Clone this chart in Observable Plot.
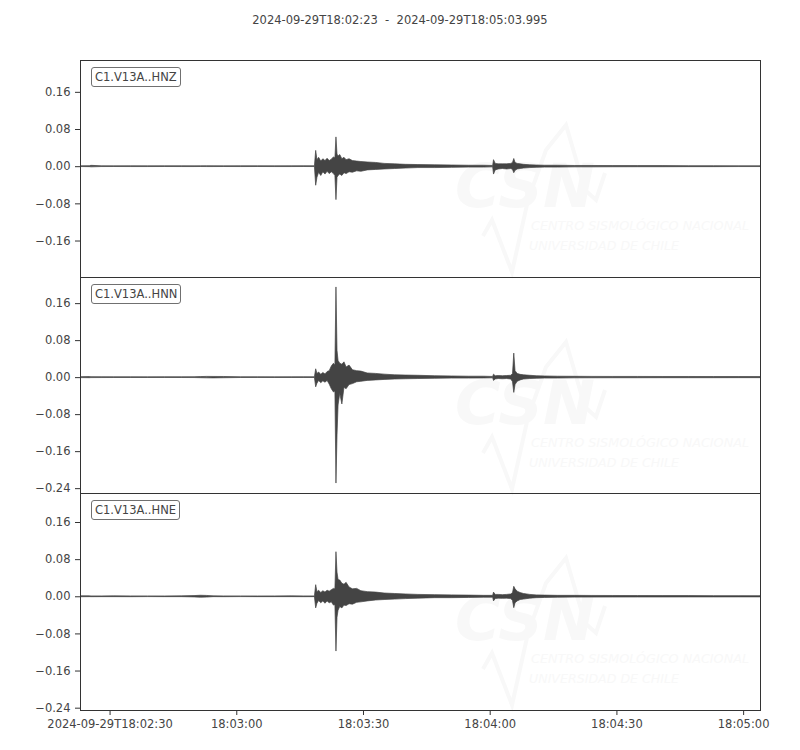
<!DOCTYPE html>
<html><head><meta charset="utf-8">
<script src="https://cdn.jsdelivr.net/npm/d3@7"></script>
<script src="https://cdn.jsdelivr.net/npm/@observablehq/plot@0.6"></script>
<style>
body{margin:0;background:#fff;}
#wrap{position:relative;width:800px;height:750px;font-family:"DejaVu Sans",sans-serif;color:#444;overflow:hidden;}
.title{position:absolute;top:13px;left:0;width:800px;text-align:center;font-size:11.5px;line-height:14px;white-space:pre;}
.panel{position:absolute;left:0;}
.tag{position:absolute;left:91px;font-size:11.5px;border:1px solid #707070;border-radius:3px;padding:2px 3px;background:#fff;line-height:14px;color:#444;}
#wm{position:absolute;left:0;top:0;}
</style></head>
<body><div id="wrap"></div>
<script>
// ---- data (seconds after 2024-09-29T18:02:23, envelope of each trace) ----
const startISO = "2024-09-29T18:02:23Z";
const duration = 160.995;
const title = "2024-09-29T18:02:23  -  2024-09-29T18:05:03.995";
const channels = ["C1.V13A..HNZ", "C1.V13A..HNN", "C1.V13A..HNE"];
const T = [
  0, 2.2, 2.6, 5, 8, 12, 16, 20, 24, 27, 28.5, 30, 31.5, 34, 38, 42, 46, 50, 53, 55.5,
  55.8, 56.1, 56.5, 57, 57.5, 58, 58.5, 59, 59.5, 60, 60.35,
  60.6, 60.85, 61.1, 61.5, 62, 62.5, 63, 63.7, 64.5, 65.5, 66.5, 68, 70, 72, 74.5, 77, 80, 84, 88, 92, 95.5, 97.7,
  97.9, 98.3, 99, 100, 101, 102, 102.4, 102.7, 103, 103.5, 104.2, 105, 106.5, 108, 110, 113, 117, 121, 126, 132, 138, 144, 150, 156, 160.99
];
const HNZ_hi = [
  0.0008, 0.001, 0.0018, 0.0008, 0.0007, 0.0008, 0.0007, 0.0008, 0.0008, 0.0007, 0.0008, 0.0009, 0.0008, 0.0007, 0.0008, 0.0008, 0.0007, 0.0008, 0.0009, 0.0008,
  0.034, 0.014, 0.019, 0.011, 0.016, 0.012, 0.017, 0.012, 0.015, 0.020, 0.018,
  0.063, 0.026, 0.022, 0.025, 0.016, 0.019, 0.014, 0.016, 0.012, 0.011, 0.010, 0.009, 0.008, 0.006, 0.005, 0.004, 0.0035, 0.003, 0.0025, 0.002, 0.002, 0.0015,
  0.014, 0.006, 0.005, 0.005, 0.005, 0.006, 0.008, 0.0165, 0.008, 0.006, 0.005, 0.004, 0.003, 0.0025, 0.002, 0.002, 0.0015, 0.0015, 0.0013, 0.0012, 0.0012, 0.001, 0.001, 0.0008, 0.0008
];
const HNZ_lo = [
  -0.0008, -0.001, -0.0015, -0.0008, -0.0007, -0.0008, -0.0008, -0.0007, -0.0008, -0.0008, -0.0007, -0.0008, -0.0008, -0.0007, -0.0008, -0.0007, -0.0008, -0.0008, -0.0007, -0.0008,
  -0.041, -0.024, -0.013, -0.020, -0.012, -0.017, -0.011, -0.016, -0.012, -0.016, -0.020,
  -0.072, -0.024, -0.020, -0.017, -0.020, -0.014, -0.016, -0.012, -0.013, -0.010, -0.011, -0.008, -0.007, -0.006, -0.005, -0.004, -0.003, -0.003, -0.0025, -0.002, -0.002, -0.0015,
  -0.017, -0.008, -0.006, -0.005, -0.006, -0.005, -0.007, -0.014, -0.009, -0.006, -0.005, -0.004, -0.003, -0.0025, -0.002, -0.002, -0.0015, -0.0015, -0.0013, -0.0012, -0.0012, -0.001, -0.001, -0.0008, -0.0008
];
const HNN_hi = [
  0.001, 0.0012, 0.001, 0.0009, 0.0008, 0.0008, 0.0007, 0.0008, 0.0008, 0.0009, 0.0012, 0.0016, 0.0015, 0.0014, 0.0008, 0.0008, 0.0007, 0.0008, 0.0009, 0.0008,
  0.018, 0.008, 0.011, 0.006, 0.010, 0.007, 0.012, 0.014, 0.024, 0.030, 0.026,
  0.195, 0.058, 0.036, 0.030, 0.028, 0.033, 0.022, 0.026, 0.016, 0.014, 0.013, 0.009, 0.008, 0.0065, 0.005, 0.0045, 0.004, 0.003, 0.0025, 0.002, 0.002, 0.0015,
  0.0065, 0.003, 0.0035, 0.003, 0.0035, 0.004, 0.008, 0.052, 0.014, 0.008, 0.006, 0.005, 0.004, 0.003, 0.0025, 0.002, 0.0018, 0.0016, 0.0015, 0.0015, 0.0014, 0.0014, 0.0013, 0.0013, 0.0012
];
const HNN_lo = [
  -0.001, -0.0012, -0.001, -0.0009, -0.0008, -0.0008, -0.0008, -0.0007, -0.0008, -0.0009, -0.0012, -0.0015, -0.0016, -0.0013, -0.0008, -0.0007, -0.0008, -0.0008, -0.0008, -0.0008,
  -0.021, -0.013, -0.007, -0.012, -0.008, -0.011, -0.007, -0.015, -0.025, -0.032, -0.030,
  -0.229, -0.125, -0.060, -0.035, -0.058, -0.022, -0.025, -0.016, -0.014, -0.010, -0.009, -0.007, -0.006, -0.005, -0.004, -0.0035, -0.003, -0.0025, -0.002, -0.002, -0.0018, -0.0015,
  -0.007, -0.004, -0.003, -0.0035, -0.003, -0.004, -0.010, -0.033, -0.016, -0.009, -0.006, -0.004, -0.003, -0.0025, -0.002, -0.002, -0.0015, -0.0014, -0.0013, -0.0013, -0.0012, -0.0012, -0.0012, -0.0011, -0.0011
];
const HNE_hi = [
  0.001, 0.0009, 0.0008, 0.0008, 0.0009, 0.0008, 0.0008, 0.0007, 0.0009, 0.0015, 0.0022, 0.0018, 0.0009, 0.0008, 0.0008, 0.0007, 0.0008, 0.0009, 0.0008, 0.0008,
  0.025, 0.010, 0.013, 0.008, 0.012, 0.009, 0.013, 0.011, 0.014, 0.017, 0.016,
  0.096, 0.052, 0.036, 0.035, 0.028, 0.026, 0.030, 0.020, 0.016, 0.017, 0.012, 0.010, 0.009, 0.007, 0.006, 0.005, 0.004, 0.0035, 0.003, 0.0025, 0.002, 0.002,
  0.009, 0.004, 0.004, 0.0035, 0.004, 0.005, 0.008, 0.0215, 0.016, 0.011, 0.008, 0.006, 0.004, 0.003, 0.0025, 0.002, 0.002, 0.0018, 0.0017, 0.0016, 0.0015, 0.0015, 0.0014, 0.0014, 0.0013
];
const HNE_lo = [
  -0.001, -0.0008, -0.0009, -0.0008, -0.0008, -0.0009, -0.0007, -0.0008, -0.0008, -0.0014, -0.002, -0.0017, -0.0008, -0.0009, -0.0007, -0.0008, -0.0008, -0.0008, -0.0009, -0.0008,
  -0.025, -0.015, -0.009, -0.014, -0.010, -0.015, -0.010, -0.014, -0.012, -0.019, -0.018,
  -0.118, -0.045, -0.030, -0.022, -0.025, -0.019, -0.020, -0.016, -0.017, -0.013, -0.012, -0.010, -0.008, -0.007, -0.006, -0.005, -0.004, -0.003, -0.003, -0.0025, -0.002, -0.002,
  -0.010, -0.005, -0.004, -0.0045, -0.004, -0.005, -0.009, -0.0245, -0.014, -0.010, -0.007, -0.006, -0.004, -0.003, -0.0025, -0.002, -0.0018, -0.0017, -0.0016, -0.0015, -0.0015, -0.0014, -0.0014, -0.0013, -0.0013
];
const yDomains = [[-0.2385, 0.2285], [-0.2505, 0.2165], [-0.245, 0.2225]];
const yTickValues = [-0.24, -0.16, -0.08, 0, 0.08, 0.16];
const xTickLabels = ["18:02:30", "18:03:00", "18:03:30", "18:04:00", "18:04:30", "18:05:00"];

// ---- build ----
const t0 = new Date(startISO);
const t1 = new Date(+t0 + duration * 1000);
const his = [HNZ_hi, HNN_hi, HNE_hi];
const los = [HNZ_lo, HNN_lo, HNE_lo];
const xTicks = xTickLabels.map(s => new Date("2024-09-29T" + s + "Z"));
const fullFmt = d3.utcFormat("%Y-%m-%dT%H:%M:%S");
const shortFmt = d3.utcFormat("%H:%M:%S");

const wrap = document.getElementById("wrap");
const ttl = document.createElement("div");
ttl.className = "title"; ttl.textContent = title;
wrap.appendChild(ttl);

// faint watermark (behind the traces)
const NS = "http://www.w3.org/2000/svg";
const wm = document.createElementNS(NS, "svg");
wm.setAttribute("id", "wm"); wm.setAttribute("width", 800); wm.setAttribute("height", 750);
wrap.appendChild(wm);

const panelTops = [60, 277, 493];
const panelHeights = [217, 216, 217];

panelTops.forEach((top, k) => {
  const g = document.createElementNS(NS, "g");
  g.setAttribute("transform", `translate(0,${top})`);
  g.setAttribute("fill", "#f8f8f8");
  g.setAttribute("font-family", "DejaVu Sans");
  g.setAttribute("font-style", "italic");
  g.innerHTML = `<text x="455" y="147" font-size="60" font-weight="bold" textLength="140" lengthAdjust="spacingAndGlyphs">CSN</text>
  <polyline points="483,176 492,160 512,212 528,140 546,90 566,65 585,130 596,140 605,113" fill="none" stroke="#f8f8f8" stroke-width="4"/>
  <text x="531" y="170" font-size="13" textLength="218" lengthAdjust="spacingAndGlyphs">CENTRO SISMOLÓGICO NACIONAL</text>
  <text x="529" y="190" font-size="13" textLength="150" lengthAdjust="spacingAndGlyphs">UNIVERSIDAD DE CHILE</text>`;
  wm.appendChild(g);
});

channels.forEach((name, k) => {
  const rows = T.map((t, i) => ({date: new Date(+t0 + t * 1000), hi: his[k][i], lo: los[k][i]}));
  const dom = yDomains[k];
  const last = k === 2;
  const mb = last ? 40 : 1;
  const h = panelHeights[k] + 1 + mb;
  const chart = Plot.plot({
    width: 800,
    height: h,
    marginLeft: 80, marginRight: 40, marginTop: 1, marginBottom: mb,
    style: {fontFamily: "DejaVu Sans", fontSize: "11.5px", color: "#444", background: "transparent", overflow: "visible"},
    x: {type: "utc", domain: [t0, t1], axis: last ? undefined : null},
    y: {domain: dom},
    marks: [
      Plot.areaY(rows, {x: "date", y1: "lo", y2: "hi", fill: "#444", stroke: "#444", strokeWidth: 0.7, curve: "linear", clip: true}),
      Plot.axisY({ticks: yTickValues.filter(v => v >= dom[0] && v <= dom[1]), tickFormat: d3.format(".2f"), tickSize: 5, tickPadding: 5, label: null, stroke: "#333"}),
      last ? Plot.axisX({ticks: xTicks, tickFormat: d => (+d === +xTicks[0] ? fullFmt(d) : shortFmt(d)), tickSize: 5, tickPadding: 4, label: null, stroke: "#333"}) : null,
      Plot.frame({stroke: "#333", strokeWidth: 1})
    ]
  });
  chart.classList.add("panel");
  chart.style.top = (panelTops[k] - 1) + "px";
  chart.style.position = "absolute";
  wrap.appendChild(chart);
  const tag = document.createElement("div");
  tag.className = "tag"; tag.textContent = name;
  tag.style.top = (panelTops[k] + 7) + "px";
  wrap.appendChild(tag);
});
</script></body></html>
